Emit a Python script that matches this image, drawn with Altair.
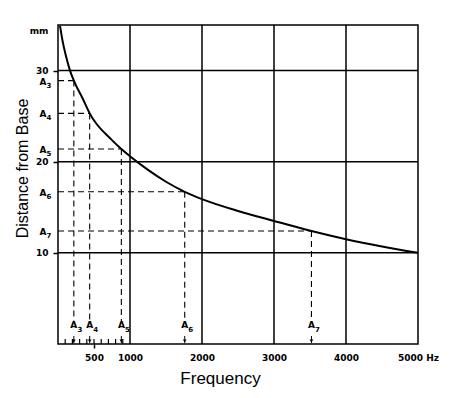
import altair as alt
import pandas as pd

# Curve (frequency in Hz, distance from base in mm)
curve_freq = [28, 60, 107, 167, 220, 351, 440, 746, 880, 1000, 1250, 1500, 1760, 2000, 2500, 3000, 3520, 4000, 4500, 5000]
curve_mm = [34.9, 33.4, 31.7, 30.0, 28.9, 26.8, 25.3, 22.4, 21.4, 20.6, 19.1, 17.8, 16.7, 15.9, 14.6, 13.5, 12.4, 11.5, 10.7, 10.0]

# Marked notes A3..A7
a_sub = ["3", "4", "5", "6", "7"]
a_freq = [220, 440, 880, 1760, 3520]
a_mm = [28.9, 25.3, 21.4, 16.7, 12.4]

x_ticks = [500, 1000, 2000, 3000, 4000, 5000]
x_grid = [1000, 2000, 3000, 4000]
y_ticks = [10, 20, 30, 35]
y_grid = [10, 20, 30]
minor_ticks = [100, 200, 300, 400, 500, 600, 700, 800, 900]

FONT = "Liberation Sans"
LFONT = "DejaVu Sans"
W, H = 360, 319

curve_df = pd.DataFrame({"f": curve_freq, "d": curve_mm})
a_df = pd.DataFrame({"sub": a_sub, "f": a_freq, "d": a_mm, "A": ["A"] * len(a_sub)})
xg_df = pd.DataFrame({"f": x_grid})
yg_df = pd.DataFrame({"d": y_grid})
minor_df = pd.DataFrame({"f": minor_ticks})

xs = alt.Scale(domain=[0, 5000], nice=False, zero=False)
ys = alt.Scale(domain=[0, 35], nice=False, zero=False)

x_axis = alt.Axis(
    values=x_ticks,
    labelExpr="datum.value == 5000 ? '5000 Hz' : datum.label",
    format="d",
    grid=False, domain=False,
    ticks=True, tickSize=4, tickColor="black", tickWidth=1.5,
    tickOpacity={"condition": {"test": "datum.value == 500", "value": 1}, "value": 0},
    labelFont=LFONT, labelFontWeight="bold", labelFontSize=9, labelColor="black",
    labelPadding=5, labelFlush=False, labelOverlap=False,
    title="Frequency", titleFont=FONT, titleFontSize=17, titleFontWeight="normal",
    titleColor="black", titleX=162, titleY=34, titleAlign="center", titleBaseline="middle",
)
y_axis = alt.Axis(
    values=y_ticks,
    labelExpr="datum.value == 35 ? 'mm' : datum.label",
    grid=False, domain=False,
    ticks=True, tickSize=5, tickColor="black", tickWidth=1.5,
    tickOpacity={"condition": {"test": "datum.value == 35", "value": 0}, "value": 1},
    labelOffset={"condition": {"test": "datum.value == 35", "value": 5}, "value": 0},
    labelFont=LFONT, labelFontWeight="bold", labelFontSize=9, labelColor="black",
    labelPadding=5, labelFlush=False, labelOverlap=False,
    title="Distance from Base", titleFont=FONT, titleFontSize=16, titleFontWeight="normal",
    titleColor="black", titleX=-36, titleY=143, titleAlign="center", titleBaseline="middle",
    titleAngle=270,
)

curve = alt.Chart(curve_df).mark_line(color="black", strokeWidth=2, interpolate="monotone").encode(
    x=alt.X("f:Q", scale=xs, axis=x_axis),
    y=alt.Y("d:Q", scale=ys, axis=y_axis),
)

xgrid = alt.Chart(xg_df).mark_rule(color="black", strokeWidth=1.5).encode(
    x=alt.X("f:Q", scale=xs)
)
ygrid = alt.Chart(yg_df).mark_rule(color="black", strokeWidth=1.5).encode(
    y=alt.Y("d:Q", scale=ys)
)
minor = alt.Chart(minor_df).mark_rule(color="black", strokeWidth=1.2).encode(
    x=alt.X("f:Q", scale=xs),
    y=alt.value(H),
    y2=alt.value(H - 5),
)

hdash = alt.Chart(a_df).transform_calculate(f0="0").mark_rule(
    color="black", strokeWidth=1.1, strokeDash=[6, 4]
).encode(
    x=alt.X("f0:Q", scale=xs),
    x2=alt.X2("f:Q"),
    y=alt.Y("d:Q", scale=ys),
)
vdash = alt.Chart(a_df).mark_rule(color="black", strokeWidth=1.1, strokeDash=[6, 4]).encode(
    x=alt.X("f:Q", scale=xs),
    y=alt.Y("d:Q", scale=ys),
    y2=alt.value(296),
)

# A labels on the left
ya = alt.Chart(a_df).mark_text(font=LFONT, fontWeight="bold", fontSize=9, color="black", dy=1).encode(
    x=alt.value(-15), y=alt.Y("d:Q", scale=ys), text="A:N"
)
ysub = alt.Chart(a_df).mark_text(font=LFONT, fontWeight="bold", fontSize=7, color="black", dy=5).encode(
    x=alt.value(-9), y=alt.Y("d:Q", scale=ys), text="sub:N"
)
# A labels at the bottom
xa = alt.Chart(a_df).mark_text(font=LFONT, fontWeight="bold", fontSize=9, color="black").encode(
    x=alt.X("f:Q", scale=xs), y=alt.value(300), text="A:N"
)
xsub = alt.Chart(a_df).mark_text(font=LFONT, fontWeight="bold", fontSize=7, color="black", dx=6).encode(
    x=alt.X("f:Q", scale=xs), y=alt.value(305), text="sub:N"
)
arrow_stem = alt.Chart(a_df).mark_rule(color="black", strokeWidth=1).encode(
    x=alt.X("f:Q", scale=xs), y=alt.value(311), y2=alt.value(318)
)
arrow_head = alt.Chart(a_df).mark_point(shape="triangle-down", filled=True, color="black", size=14, opacity=1).encode(
    x=alt.X("f:Q", scale=xs), y=alt.value(316)
)

chart = alt.layer(
    curve, xgrid, ygrid, minor, hdash, vdash, ya, ysub, xa, xsub, arrow_stem, arrow_head
).properties(
    width=W, height=H,
    autosize=alt.AutoSizeParams(type="none"),
    padding={"left": 50, "top": 17, "right": 26, "bottom": 44},
    background="white",
).configure_view(stroke="black", strokeWidth=1.5)

chart.save("out.html", embed_options={"renderer": "svg", "actions": False})
